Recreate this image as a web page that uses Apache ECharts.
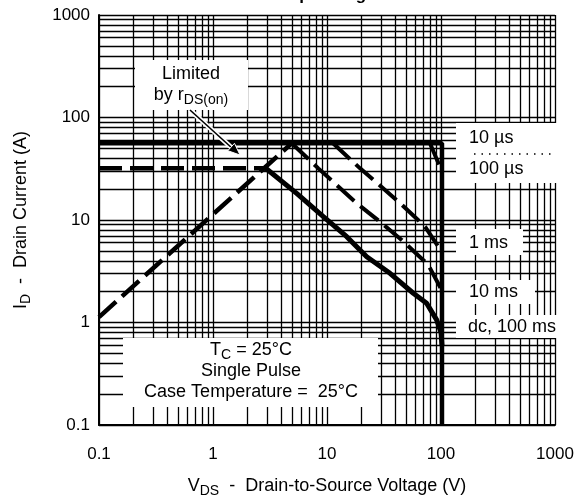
<!DOCTYPE html>
<html>
<head>
<meta charset="utf-8">
<script src="https://cdn.jsdelivr.net/npm/echarts@6.0.0/dist/echarts.min.js"></script>
<style>
  html, body { margin: 0; padding: 0; background: #fff; }
  #chart { width: 584px; height: 502px; }
</style>
</head>
<body>
<div id="chart"></div>
<script>
// grid lines of the log paper
var xTicks = [0.1, 0.2, 0.3, 0.4, 0.5, 0.6, 0.7, 0.8, 0.9,
              1, 2, 3, 4, 5, 6, 7, 8, 9,
              10, 20, 30, 40, 50, 60, 70, 80, 90,
              100, 200, 300, 400, 500, 600, 700, 800, 900, 1000];
var yTicks = [0.1, 0.2, 0.3, 0.4, 0.5, 0.6, 0.7, 0.8, 0.9,
              1, 2, 3, 4, 5, 6, 7, 8, 9,
              10, 20, 30, 40, 50, 60, 70, 80, 90,
              100, 200, 300, 400, 500, 600, 700, 800, 900, 1000];
var xLabels = [0.1, 1, 10, 100, 1000];
var yLabels = [0.1, 1, 10, 100, 1000];

// SOA boundaries [V, A]
var line10us = [[0.1, 56], [102, 56], [102, 0.1]];
var limitDc = [[0.1, 32], [2.85, 32]];
var rdsOn = [[0.1, 1.13], [4.9, 56]];
var line100us = [[80, 56], [98, 33], [102, 30]];
var line1ms = [[11.3, 56], [19.5, 31.9], [42.3, 15.1], [65.4, 9.6], [72.4, 8.6], [94.6, 5.5], [102, 4.9]];
var line10ms = [[4.9, 56], [8.39, 31.9], [18.2, 14.6], [29.2, 9.6], [45.2, 6.38], [72.4, 3.92], [77.4, 3.64], [97.9, 2.23], [102, 2.0]];
var lineDcCurve = [[2.9, 32], [5.42, 18.2], [9.29, 10.8], [14.9, 6.87], [22.3, 4.38], [35.7, 3.02],
                   [57.2, 1.93], [74.8, 1.54], [91.6, 1.06], [100, 0.8], [102, 0.6]];

var font = "'Liberation Sans', Arial, sans-serif";
var dash = [23, 8];

function seg(data, width, type) {
  return {
    type: 'line', data: data, symbol: 'none', silent: true,
    lineStyle: { color: '#000', width: width, type: type }
  };
}

var chart = echarts.init(document.getElementById('chart'));

var subStyle = { fontSize: 14, fontFamily: font, color: '#000', padding: [10, 0, 0, 0] };

chart.setOption({
  animation: false,
  backgroundColor: '#fff',
  grid: { left: 99, right: 29, top: 15, bottom: 77, outerBoundsMode: 'none', containLabel: false },
  xAxis: {
    type: 'log', min: 0.1, max: 1000,
    name: 'V{s|DS}  -  Drain-to-Source Voltage (V)',
    nameLocation: 'middle', nameGap: 49,
    nameTextStyle: { fontSize: 18, fontFamily: font, color: '#000', rich: { s: subStyle } },
    axisLine: { show: true, lineStyle: { color: '#000', width: 2 } },
    axisTick: { show: false, customValues: xTicks },
    axisLabel: { customValues: xLabels, fontSize: 17, fontFamily: font, color: '#000', margin: 21,
                 formatter: function (v) { return String(v); } },
    splitLine: { show: true, lineStyle: { color: '#000', width: 1.3 } }
  },
  yAxis: {
    type: 'log', min: 0.1, max: 1000,
    name: 'I{s|D}  -  Drain Current (A)',
    nameLocation: 'middle', nameGap: 66,
    nameTextStyle: { fontSize: 18, fontFamily: font, color: '#000', rich: { s: subStyle } },
    axisLine: { show: true, lineStyle: { color: '#000', width: 2 } },
    axisTick: { show: false, customValues: yTicks },
    axisLabel: { customValues: yLabels, fontSize: 17, fontFamily: font, color: '#000', margin: 9,
                 formatter: function (v) { return String(v); } },
    splitLine: { show: true, lineStyle: { color: '#000', width: 1.3 } }
  },
  series: [
    seg(line10us, 4.5, 'solid'),
    seg(limitDc, 4.5, dash),
    seg(rdsOn, 4.5, dash),
    seg(line100us, 4, dash),
    seg(line1ms, 4, dash),
    seg(line10ms, 4, dash),
    seg(lineDcCurve, 5, 'solid')
  ],
  graphic: [
    { type: 'text', x: 327, y: 4, z: 20,
      style: { text: 'Safe Operating Area', font: 'bold 17px ' + font, fill: '#000', align: 'center', verticalAlign: 'bottom' } },
    // Limited by rDS(on)
    { type: 'rect', z: 10, shape: { x: 135, y: 60, width: 113, height: 50 }, style: { fill: '#fff' } },
    { type: 'text', z: 11, x: 191, y: 74,
      style: { text: 'Limited', font: '18px ' + font, fill: '#000', align: 'center', verticalAlign: 'middle' } },
    { type: 'text', z: 11, x: 191, y: 95,
      style: { text: 'by r{s|DS(on)}', font: '18px ' + font, fill: '#000', align: 'center', verticalAlign: 'middle',
               rich: { s: { fontSize: 14, fontFamily: font, fill: '#000', padding: [10, 0, 0, 0] } } } },
    { type: 'line', z: 12, shape: { x1: 190, y1: 110, x2: 233, y2: 149 }, style: { stroke: '#fff', lineWidth: 5 } },
    { type: 'line', z: 13, shape: { x1: 190, y1: 110, x2: 233, y2: 149 }, style: { stroke: '#000', lineWidth: 1.6 } },
    { type: 'polygon', z: 13, shape: { points: [[240, 155], [227.8, 150.7], [234.5, 143.3]] },
      style: { fill: '#000', stroke: '#fff', lineWidth: 1 } },
    // right-side labels
    { type: 'rect', z: 10, shape: { x: 456, y: 123, width: 102, height: 60 }, style: { fill: '#fff' } },
    { type: 'line', z: 11, shape: { x1: 474, y1: 154, x2: 556, y2: 154 }, style: { stroke: '#000', lineWidth: 1.3, lineDash: [1.5, 6] } },
    { type: 'text', z: 11, x: 469, y: 138,
      style: { text: '10 \u00b5s', font: '18px ' + font, fill: '#000', verticalAlign: 'middle' } },
    { type: 'text', z: 11, x: 469, y: 169,
      style: { text: '100 \u00b5s', font: '18px ' + font, fill: '#000', verticalAlign: 'middle' } },
    { type: 'rect', z: 10, shape: { x: 456, y: 229, width: 67, height: 26 }, style: { fill: '#fff' } },
    { type: 'text', z: 11, x: 469, y: 243,
      style: { text: '1 ms', font: '18px ' + font, fill: '#000', verticalAlign: 'middle' } },
    { type: 'rect', z: 10, shape: { x: 456, y: 280, width: 79, height: 24 }, style: { fill: '#fff' } },
    { type: 'text', z: 11, x: 469, y: 292,
      style: { text: '10 ms', font: '18px ' + font, fill: '#000', verticalAlign: 'middle' } },
    { type: 'rect', z: 10, shape: { x: 456, y: 315, width: 104, height: 23 }, style: { fill: '#fff' } },
    { type: 'text', z: 11, x: 468, y: 327,
      style: { text: 'dc, 100 ms', font: '18px ' + font, fill: '#000', verticalAlign: 'middle' } },
    // test conditions
    { type: 'rect', z: 10, shape: { x: 123, y: 338, width: 255, height: 69 }, style: { fill: '#fff' } },
    { type: 'text', z: 11, x: 251, y: 350,
      style: { text: 'T{s|C} = 25\u00b0C', font: '18px ' + font, fill: '#000', align: 'center', verticalAlign: 'middle',
               rich: { s: { fontSize: 14, fontFamily: font, fill: '#000', padding: [10, 0, 0, 0] } } } },
    { type: 'text', z: 11, x: 251, y: 371,
      style: { text: 'Single Pulse', font: '18px ' + font, fill: '#000', align: 'center', verticalAlign: 'middle' } },
    { type: 'text', z: 11, x: 251, y: 392,
      style: { text: 'Case Temperature =  25\u00b0C', font: '18px ' + font, fill: '#000', align: 'center', verticalAlign: 'middle' } }
  ]
});
</script>
</body>
</html>
